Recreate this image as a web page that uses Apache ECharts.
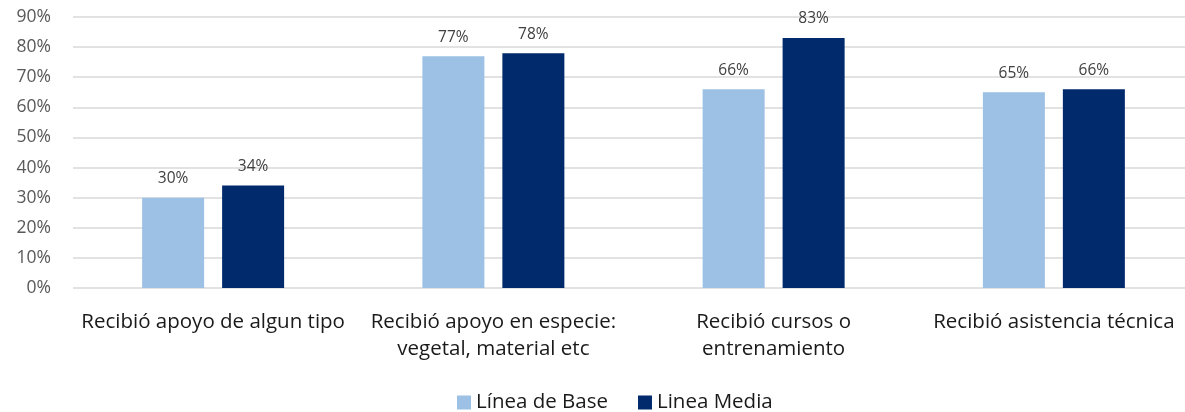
<!DOCTYPE html>
<html><head><meta charset="utf-8">
<script src="https://cdn.jsdelivr.net/npm/echarts@6/dist/echarts.min.js"></script>
<style>html,body{margin:0;padding:0;background:#fff}#c{width:1185px;height:412px}</style>
</head><body><div id="c"></div>
<script>
const categories = ["Recibió apoyo de algun tipo", "Recibió apoyo en especie:\nvegetal, material etc", "Recibió cursos o\nentrenamiento", "Recibió asistencia técnica"];
const lineaBase = [30, 77, 66, 65];
const lineaMedia = [34, 78, 83, 66];
const seriesNames = ["Línea de Base", "Linea Media"];
const FONT = "'Open Sans', sans-serif";
const chart = echarts.init(document.getElementById('c'), null, {renderer: 'canvas'});
const lbl = {show: true, position: 'top', distance: 11, formatter: p => p.value + '%', color: '#404040', fontSize: 15.5, fontFamily: FONT};
chart.setOption({
  animation: false,
  grid: {left: 73, top: 17, width: 1121, height: 271, outerBoundsMode: 'none', containLabel: false},
  legend: {top: 387, left: 452, itemWidth: 14, itemHeight: 14, itemGap: 30, icon: 'rect',
    textStyle: {fontSize: 20.5, color: '#1a1a1a', fontFamily: FONT}, data: seriesNames},
  xAxis: {type: 'category', data: categories,
    axisLine: {show: false}, axisTick: {show: false},
    axisLabel: {interval: 0, margin: 21, fontSize: 20.5, lineHeight: 27, color: '#1a1a1a', fontFamily: FONT}},
  yAxis: {type: 'value', min: 0, max: 90, interval: 10,
    axisLabel: {formatter: '{value}%', fontSize: 17.5, color: '#595959', fontFamily: FONT, margin: 22},
    splitLine: {lineStyle: {color: '#d9d9d9', width: 1.5}}, axisLine: {show: false}, axisTick: {show: false}},
  series: [
    {name: seriesNames[0], type: 'bar', data: lineaBase, barWidth: 62, barGap: '29%', itemStyle: {color: '#9dc0e5'}, label: lbl},
    {name: seriesNames[1], type: 'bar', data: lineaMedia, barWidth: 62, itemStyle: {color: '#002a6c'}, label: lbl}
  ]
});
</script></body></html>
